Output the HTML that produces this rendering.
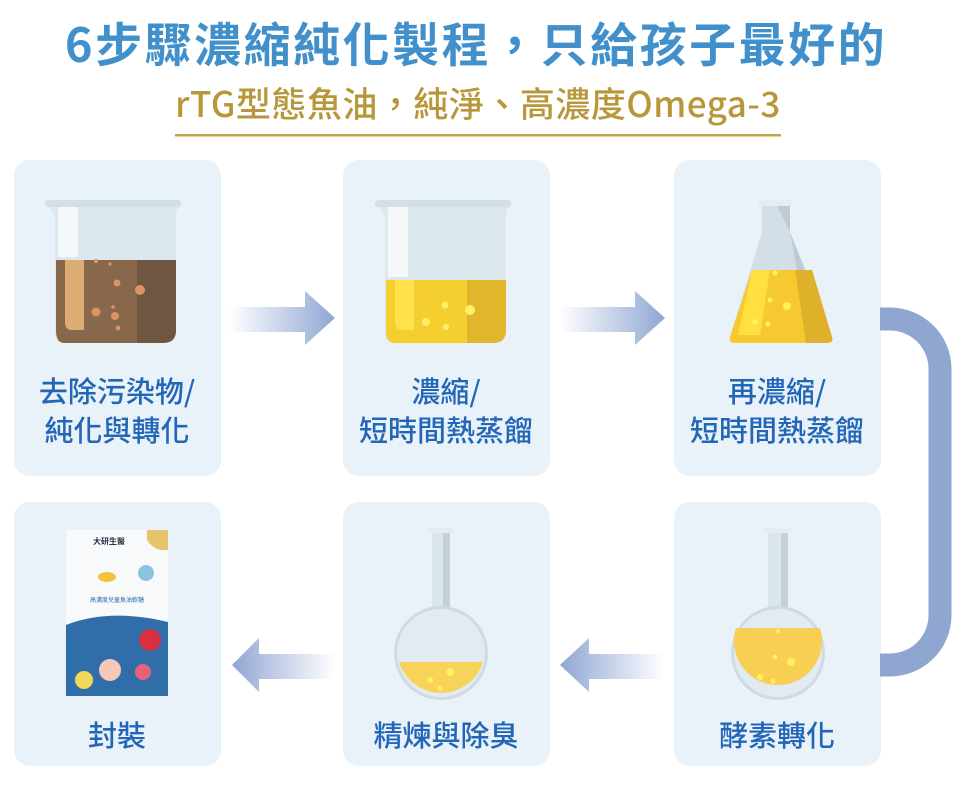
<!DOCTYPE html>
<html><head><meta charset="utf-8"><style>
body{margin:0;width:960px;height:786px;background:#fff;overflow:hidden;font-family:"Noto Sans CJK TC","Liberation Sans",sans-serif;}
</style></head><body>
<svg width="960" height="786" viewBox="0 0 960 786" xmlns="http://www.w3.org/2000/svg" font-family="Noto Sans CJK TC, Liberation Sans, sans-serif">
<defs>
<linearGradient id="ar" x1="0" x2="1"><stop offset="0" stop-color="#94a9d6" stop-opacity="0"/><stop offset="1" stop-color="#8fa6d3"/></linearGradient>
<linearGradient id="al" x1="1" x2="0"><stop offset="0" stop-color="#94a9d6" stop-opacity="0"/><stop offset="1" stop-color="#8fa6d3"/></linearGradient>
</defs>
<text x="476" y="62" text-anchor="middle" font-size="47" font-weight="bold" fill="#4190cc" letter-spacing="2.5">6步驟濃縮純化製程，只給孩子最好的</text>
<text x="478" y="117" text-anchor="middle" font-size="35" font-weight="500" fill="#b8973a" letter-spacing="0.5">rTG型態魚油，純淨、高濃度Omega-3</text>
<rect x="175" y="134" width="606" height="2.5" fill="#c4a448"/>

<g fill="#e9f1f9">
<rect x="14" y="160" width="207" height="316" rx="16"/>
<rect x="343" y="160" width="207" height="316" rx="16"/>
<rect x="674" y="160" width="207" height="316" rx="16"/>
<rect x="14" y="502" width="207" height="264" rx="16"/>
<rect x="343" y="502" width="207" height="264" rx="16"/>
<rect x="674" y="502" width="207" height="264" rx="16"/>
</g>

<path d="M229 307H305V291L335 318L305 345V332H229Z" fill="url(#ar)"/>
<path d="M559 307H635V291L665 318L635 345V332H559Z" fill="url(#ar)"/>
<path d="M335 654H259V638L232 665L259 692V679H335Z" fill="url(#al)"/>
<path d="M665 654H589V638L560 665L589 692V679H665Z" fill="url(#al)"/>
<path d="M880 319H890A50 50 0 0 1 940 369V615A50 50 0 0 1 890 665H880" fill="none" stroke="#8fa6d1" stroke-width="23"/>

<g>
<path d="M46 203H180L176 212V330Q176 343 163 343H64Q55 343 55 330V215Z" fill="#dde7ee"/>
<path d="M56 260H176V330Q176 343 163 343H64Q56 343 56 330Z" fill="#87684a"/>
<path d="M65 260H84V330H72Q65 330 65 322Z" fill="#dcac74"/>
<path d="M137 260H176V330Q176 343 163 343H137Z" fill="#6f5640"/>
<rect x="45" y="200" width="136" height="7" rx="3" fill="#d3dfe6"/>
<rect x="58" y="207" width="20" height="50" fill="#f5f9fc"/>
<g fill="#dc9466"><circle cx="117" cy="283" r="3.5"/><circle cx="140" cy="290" r="5"/><circle cx="96" cy="312" r="4.5"/><circle cx="115" cy="316" r="4"/><circle cx="118" cy="328" r="2.5"/><circle cx="113" cy="307" r="1.8"/><circle cx="96" cy="261" r="2"/><circle cx="110" cy="264" r="1.6"/></g>
</g>
<g>
<path d="M376 203H510L506 212V330Q506 343 493 343H394Q385 343 385 330V215Z" fill="#dde7ee"/>
<path d="M386 280H506V330Q506 343 493 343H394Q386 343 386 330Z" fill="#f5cf30"/>
<path d="M467 280H506V330Q506 343 493 343H467Z" fill="#e0b62b"/>
<path d="M395 280H414V330H402Q395 330 395 322Z" fill="#ffe14a"/>
<rect x="375" y="200" width="136" height="7" rx="3" fill="#d3dfe6"/>
<rect x="388" y="207" width="20" height="70" fill="#f5f9fc"/>
<g fill="#fff06a"><circle cx="445" cy="305" r="3.5"/><circle cx="470" cy="310" r="5"/><circle cx="426" cy="322" r="4"/><circle cx="446" cy="327" r="3"/></g>
</g>
<g>
<path d="M762 204H790V232L832 337Q834 343 826 343H735Q728 343 730 337L762 232Z" fill="#d3dee7"/>
<path d="M776 204H790V232L832 337Q834 343 826 343H810L790 232Z" fill="#bfcbd4"/>
<path d="M752 270H812L832 337Q834 343 826 343H735Q728 343 730 337Z" fill="#f7c930"/>
<path d="M795 270H812L832 337Q834 343 826 343H806Z" fill="#dfb12a"/>
<path d="M752 270H770L760 335H738Z" fill="#ffe03e"/>
<rect x="758" y="200" width="35" height="6" rx="3" fill="#e4ecf1"/>
<g fill="#fff25c"><circle cx="787" cy="306" r="4"/><circle cx="770" cy="300" r="2.5"/><circle cx="755" cy="322" r="3"/><circle cx="768" cy="324" r="2.5"/><circle cx="775" cy="273" r="2.5"/></g>
</g>
<g>
<rect x="432" y="532" width="18" height="80" fill="#dbe5ec"/>
<rect x="443" y="532" width="7" height="80" fill="#c5d1d9"/>
<rect x="428" y="528" width="26" height="5" rx="2" fill="#e4ecf1"/>
<circle cx="441" cy="653" r="47" fill="#cfdbe3"/>
<circle cx="441" cy="653" r="44" fill="#e2ebf1"/>
<path d="M399 662H483A44 44 0 0 1 399 662Z" fill="#f7d359"/>
<g fill="#fff25c"><circle cx="450" cy="672" r="4"/><circle cx="430" cy="680" r="3"/><circle cx="440" cy="688" r="2.5"/></g>
</g>
<g>
<rect x="768" y="532" width="20" height="80" fill="#dbe5ec"/>
<rect x="781" y="532" width="7" height="80" fill="#c5d1d9"/>
<rect x="765" y="528" width="26" height="5" rx="2" fill="#e4ecf1"/>
<circle cx="778" cy="653" r="47" fill="#cfdbe3"/>
<circle cx="778" cy="653" r="44" fill="#e2ebf1"/>
<path d="M736 628H820A44 44 0 1 1 736 628Z" fill="#f8cf52"/>
<g fill="#fff25c"><circle cx="791" cy="662" r="4"/><circle cx="775" cy="657" r="2.5"/><circle cx="760" cy="677" r="3"/><circle cx="773" cy="681" r="2.5"/><circle cx="778" cy="631" r="2"/></g>
</g>
<g>
<rect x="66" y="530" width="102" height="166" rx="3" fill="#f7f9fb"/>
<rect x="66" y="612" width="102" height="84" fill="#2f6ea8"/>
<path d="M66 612Q100 600 168 612V622Q110 608 66 625Z" fill="#f7f9fb"/>
<path d="M147 530H168V550Q155 552 147 540Z" fill="#e6c46a"/>
<text x="93" y="544" font-size="8" font-weight="bold" fill="#234">大研生醫</text>
<text x="117" y="602" text-anchor="middle" font-size="6" fill="#2f6ea8">高濃度兒童魚油軟糖</text>
<ellipse cx="107" cy="577" rx="9" ry="5" fill="#f2c23a"/>
<circle cx="146" cy="573" r="8" fill="#8fc2e2"/>
<circle cx="150" cy="640" r="11" fill="#d83040"/>
<circle cx="84" cy="680" r="9" fill="#f0d95a"/>
<circle cx="110" cy="670" r="11" fill="#f6c8b8"/>
<circle cx="143" cy="672" r="8" fill="#e8607a"/>
</g>

<g font-size="29" fill="#2266b8" text-anchor="middle" font-weight="500">
<text x="117" y="402">去除污染物/</text>
<text x="117" y="441">純化與轉化</text>
<text x="446" y="402">濃縮/</text>
<text x="446" y="441">短時間熱蒸餾</text>
<text x="777" y="402">再濃縮/</text>
<text x="777" y="441">短時間熱蒸餾</text>
<text x="117" y="746">封裝</text>
<text x="446" y="746">精煉與除臭</text>
<text x="777" y="746">酵素轉化</text>
</g>
</svg>
</body></html>
